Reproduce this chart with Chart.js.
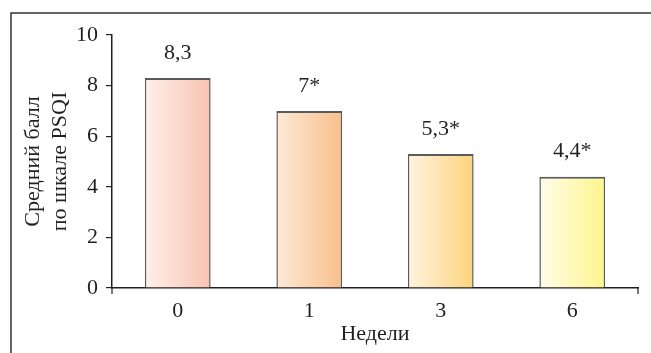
<!DOCTYPE html>
<html>
<head>
<meta charset="utf-8">
<script src="https://cdn.jsdelivr.net/npm/chart.js@4/dist/chart.umd.min.js"></script>
<style>
  html, body { margin: 0; padding: 0; background: #fff; }
  #wrap { width: 651px; height: 353px; position: relative; }
</style>
</head>
<body>
<div id="wrap"><canvas id="c" width="651" height="353"></canvas></div>
<script>
// Weeks of treatment and mean PSQI score
const weeks = ['0', '1', '3', '6'];
const scores = [8.3, 7, 5.3, 4.4];
const significance = ['', '*', '*', '*'];
const yTicks = [0, 2, 4, 6, 8, 10];

// Left / right stops of each bar's horizontal gradient
const gradLeft = ['#fff0ea', '#fde9d6', '#fff3df', '#fffdea'];
const gradRight = ['#f8c3b2', '#f9bf8c', '#fdd47c', '#fdf58c'];

const FONT = '"Liberation Serif", "Times New Roman", serif';
const FS = 22;
const INK = '#231f20';

const barFill = (c) => {
  const chart = c.chart;
  const x = chart.scales && chart.scales.x;
  const i = c.dataIndex;
  if (!x || !chart.chartArea || i === undefined) return gradRight[i || 0];
  const cx = x.getPixelForValue(i);
  const half = (x.width / weeks.length) * 0.5 / 2;
  const g = chart.ctx.createLinearGradient(cx - half, 0, cx + half, 0);
  g.addColorStop(0, gradLeft[i]);
  g.addColorStop(1, gradRight[i]);
  return g;
};

// Outer frame (top and left rules), x-axis end ticks and value labels
const decor = {
  id: 'decor',
  beforeDraw(chart) {
    const ctx = chart.ctx;
    ctx.save();
    ctx.strokeStyle = '#333';
    ctx.lineWidth = 1.5;
    ctx.beginPath();
    ctx.moveTo(651, 13);
    ctx.lineTo(11, 13);
    ctx.lineTo(11, 353);
    ctx.stroke();
    ctx.restore();
  },
  afterDatasetsDraw(chart) {
    const ctx = chart.ctx;
    const x = chart.scales.x;
    const y0 = chart.scales.y.getPixelForValue(0);
    ctx.save();
    ctx.strokeStyle = INK;
    ctx.lineWidth = 1.2;
    ctx.beginPath();
    ctx.moveTo(x.left, y0); ctx.lineTo(x.left, y0 + 6);
    ctx.moveTo(x.right, y0); ctx.lineTo(x.right, y0 + 6);
    ctx.stroke();

    ctx.fillStyle = INK;
    ctx.font = FS + 'px ' + FONT;
    ctx.textAlign = 'center';
    ctx.textBaseline = 'middle';
    const meta = chart.getDatasetMeta(0);
    meta.data.forEach((bar, i) => {
      const txt = String(scores[i]).replace('.', ',') + significance[i];
      ctx.fillText(txt, bar.x, bar.y - 25);
    });
    ctx.restore();
  }
};

new Chart(document.getElementById('c'), {
  type: 'bar',
  data: {
    labels: weeks,
    datasets: [{
      data: scores,
      backgroundColor: barFill,
      borderColor: '#5a5a5a',
      borderWidth: { top: 2, left: 1.5, right: 1.5, bottom: 0 },
      barPercentage: 0.5,
      categoryPercentage: 1.0
    }]
  },
  options: {
    responsive: false,
    animation: false,
    layout: { padding: { top: 35, right: 13, left: 11, bottom: 0 } },
    plugins: { legend: { display: false }, tooltip: { enabled: false } },
    scales: {
      x: {
        grid: { display: false },
        border: { display: true, color: INK, width: 1.5 },
        ticks: { color: INK, font: { family: FONT, size: FS }, padding: 2 },
        title: {
          display: true, text: 'Недели', color: INK,
          font: { family: FONT, size: FS, lineHeight: 1.2 },
          padding: { top: 0, bottom: 6 }
        },
        afterFit(s) { s.height = 65; }
      },
      y: {
        min: 0, max: 10,
        afterBuildTicks(s) { s.ticks = yTicks.map(v => ({ value: v })); },
        grid: { drawOnChartArea: false, drawTicks: true, tickLength: 6, color: INK, lineWidth: 1.2 },
        border: { display: true, color: INK, width: 1.5 },
        ticks: { color: INK, font: { family: FONT, size: FS }, padding: 8 },
        title: {
          display: true, text: ['Средний балл', 'по шкале PSQI'], color: INK,
          font: { family: FONT, size: FS, lineHeight: 1.25 },
          padding: { top: 8, bottom: 0 }
        },
        afterFit(s) { s.width = 101; }
      }
    }
  },
  plugins: [decor]
});
</script>
</body>
</html>
